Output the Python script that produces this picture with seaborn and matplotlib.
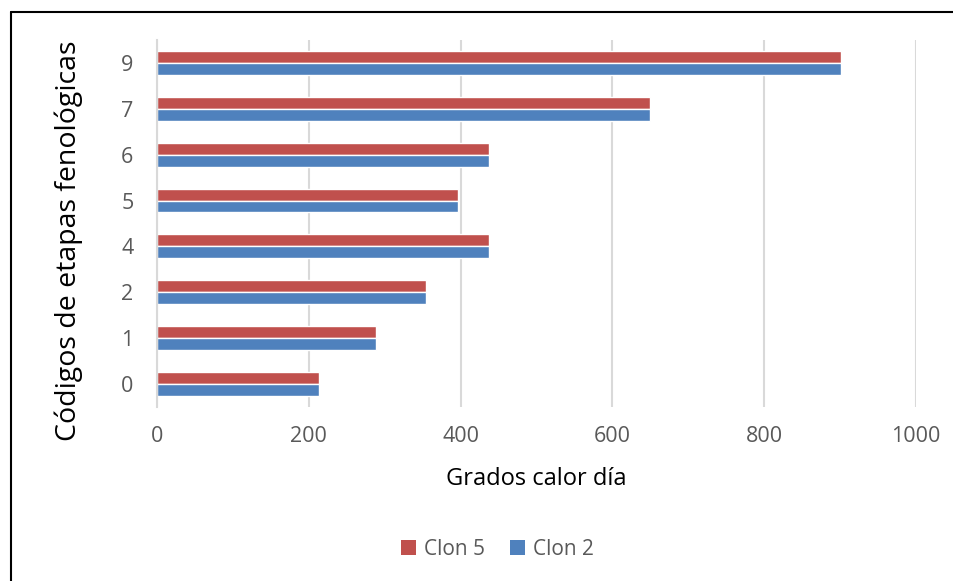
import pandas as pd
import seaborn as sns
import matplotlib.pyplot as plt
from matplotlib.lines import Line2D
from matplotlib.patches import Patch

# Phenological stage codes (top to bottom) and heat units per clone
codes = ['9', '7', '6', '5', '4', '2', '1', '0']
clon5 = [901, 650, 437, 396, 437, 354, 289, 214]
clon2 = [901, 650, 437, 396, 437, 354, 289, 214]
series = ['Clon 5', 'Clon 2']
colors = ['#C0504D', '#4F81BD']

df = pd.DataFrame({
    'codigo': codes * 2,
    'gdd': clon5 + clon2,
    'clon': ['Clon 5'] * len(codes) + ['Clon 2'] * len(codes),
})

sns.set_style('white')
plt.rcParams['font.family'] = ['Open Sans', 'DejaVu Sans']

fig = plt.figure(figsize=(9.54, 5.81), dpi=100)
ax = fig.add_axes([0.1646, 0.2995, 0.7956, 0.6317])

sns.barplot(data=df, x='gdd', y='codigo', hue='clon', order=codes,
            hue_order=series, palette=colors, orient='h', width=0.52,
            gap=0, saturation=1, ax=ax, legend=False, errorbar=None)

ax.set_xlim(0, 1000)
ax.set_xticks(range(0, 1001, 200))
ax.grid(axis='x', color='#D9D9D9', linewidth=1.5)
ax.set_axisbelow(True)
for s in ['top', 'right', 'bottom']:
    ax.spines[s].set_visible(False)
ax.spines['left'].set_color('#D9D9D9')
ax.spines['left'].set_linewidth(1.5)
ax.tick_params(axis='both', length=0, labelsize=15.5, colors='#595959')
ax.tick_params(axis='x', pad=14)
ax.tick_params(axis='y', pad=17)

ax.set_xlabel('Grados calor día', fontsize=17, color='#000000')
ax.xaxis.set_label_coords(0.4995, -0.163)
ax.set_ylabel('Códigos de etapas fenológicas', fontsize=20.5, color='#000000')
ax.yaxis.set_label_coords(-0.097, 0.452)

handles = [Patch(facecolor=c, edgecolor='none', label=s) for s, c in zip(series, colors)]
fig.legend(handles=handles, loc='center', bbox_to_anchor=(0.521, 0.054), ncol=2,
           frameon=False, fontsize=15, handlelength=0.75, handleheight=0.75,
           handletextpad=0.35, columnspacing=1.2, labelcolor='#595959')

# outer chart border (top and left visible)
fig.add_artist(Line2D([11 / 954, 953 / 954], [1 - 12 / 581, 1 - 12 / 581], color='black', lw=1.5))
fig.add_artist(Line2D([11 / 954, 11 / 954], [0, 1 - 12 / 581], color='black', lw=1.5))

fig.savefig('out.png', dpi=100)
